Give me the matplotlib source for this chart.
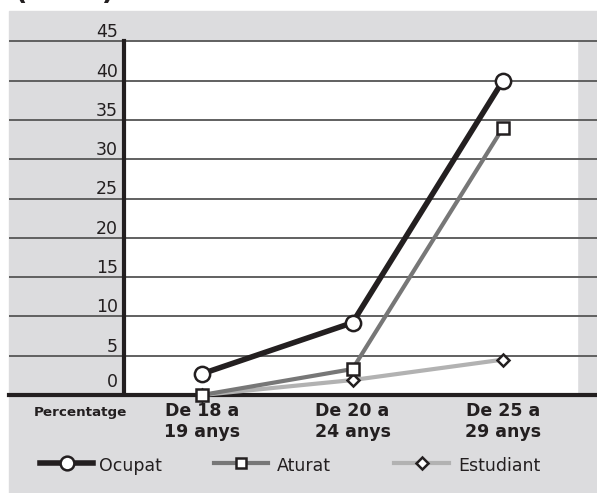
import matplotlib
matplotlib.use("Agg")
import matplotlib.pyplot as plt
from matplotlib.patches import Rectangle
from matplotlib.lines import Line2D
import matplotlib.transforms as mtransforms

# Dades
grups = ["De 18 a\n19 anys", "De 20 a\n24 anys", "De 25 a\n29 anys"]
ocupat = [2.7, 9.2, 40.0]
aturat = [0.0, 3.3, 34.0]
estudiant = [0.0, 1.9, 4.5]
series = ["Ocupat", "Aturat", "Estudiant"]
yticks = [0, 5, 10, 15, 20, 25, 30, 35, 40, 45]

W, H = 597, 493
GRIS = "#dcdcde"
NEGRE = "#231f20"

def fx(px):
    return px / W

def fy(py):
    return 1 - py / H

fig = plt.figure(figsize=(W / 100, H / 100), dpi=100)
fig.patch.set_facecolor("white")
# fons gris
fig.patches.append(Rectangle((fx(9), 0), 1, fy(11), transform=fig.transFigure,
                             color=GRIS, zorder=-10))
# títol tallat a dalt (al original només se'n veu la part de baix)
fig.text(fx(15), fy(-1), "(en %)", fontsize=19.5, fontweight="bold",
         color=NEGRE, ha="left", va="baseline")

# eix: de x=9 a 597 px, de y=11 a 395 px
ax = fig.add_axes([fx(9), fy(395), fx(597) - fx(9), fy(11) - fy(395)])
ax.set_zorder(2)
ax.set_facecolor("none")
pas = 150.5
x0 = 202
ax.set_xlim(-(x0 - 9) / pas, (W - x0) / pas)
ax.set_ylim(0, (395 - 11) / 7.86)
for s in ax.spines.values():
    s.set_visible(False)
ax.set_xticks([])
ax.set_yticks([])

xl, xr = (124 - x0) / pas, (577 - x0) / pas
ax.add_patch(Rectangle((xl, 0), xr - xl, 45, color="white", zorder=0.5))
for v in yticks[1:]:
    ax.axhline(v, color="#606060", lw=1.4, zorder=1)
ax.plot([xl, xl], [0, 45], color=NEGRE, lw=3, zorder=2)
ax.axhline(0, color=NEGRE, lw=3, zorder=2, clip_on=False)

# etiquetes eix y
off = mtransforms.offset_copy(ax.transData, fig=fig, x=0, y=4, units="dots")
for v in yticks:
    ax.text((118 - x0) / pas, v + (0.5 if v == 0 else 0), str(v), transform=off,
            ha="right", va="baseline", fontsize=12.5, color=NEGRE)

x = list(range(len(grups)))
estils = {
    "Ocupat": dict(color=NEGRE, lw=4.0, marker="o", ms=11, mec=NEGRE, mfc="white", mew=1.8, zorder=5),
    "Aturat": dict(color="#777777", lw=3.0, marker="s", ms=8, mec=NEGRE, mfc="white", mew=1.8, zorder=4),
    "Estudiant": dict(color="#b2b2b2", lw=3.0, marker="D", ms=6.5, mec=NEGRE, mfc="white", mew=1.8, zorder=3),
}
valors = {"Ocupat": ocupat, "Aturat": aturat, "Estudiant": estudiant}
for nom in ["Estudiant", "Aturat", "Ocupat"]:
    ax.plot(x, valors[nom], clip_on=False, **estils[nom])

# etiquetes eix x
for i, g in enumerate(grups):
    ax.text(i, 0, g, transform=mtransforms.offset_copy(ax.transData, fig=fig, x=0, y=-7, units="dots"),
            ha="center", va="top", fontsize=12.5, fontweight="bold", color=NEGRE, linespacing=1.22)
fig.text(fx(80), fy(416), "Percentatge", ha="center", va="baseline",
         fontsize=9.7, fontweight="heavy", color=NEGRE)

# llegenda manual
pos_llegenda = [(40, 93, 99), (214, 268, 277), (394, 449, 458)]
for nom, (a, b, t) in zip(series, pos_llegenda):
    e = estils[nom]
    ln = Line2D([fx(a), fx(b)], [fy(463), fy(463)], transform=fig.transFigure,
                color=e["color"], lw=e["lw"])
    fig.add_artist(ln)
    mk = Line2D([fx((a + b) / 2)], [fy(463)], transform=fig.transFigure,
                marker=e["marker"], ms=e["ms"] * 0.9, mec=e["mec"], mfc=e["mfc"], mew=e["mew"], lw=0)
    fig.add_artist(mk)
    fig.text(fx(t), fy(471), nom, ha="left", va="baseline", fontsize=12.5, color=NEGRE)

plt.savefig("out.png", dpi=100)
